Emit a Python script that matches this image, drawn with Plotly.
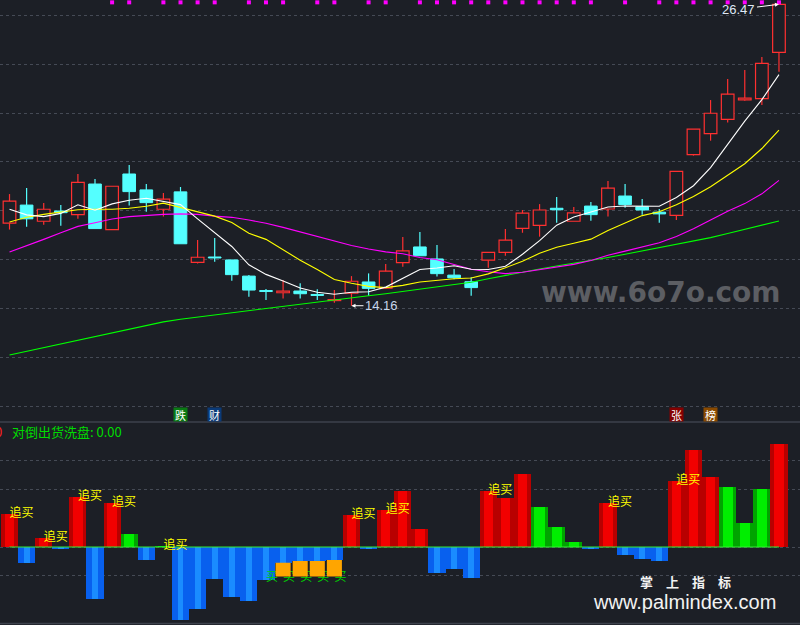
import plotly.graph_objects as go

BG = "#1c1f26"

# ---------------- data ----------------
opens = [17.53, 18.27, 17.61, 18.03, 17.88, 19.13, 17.27, 19.54, 18.89, 18.10,
         18.81, 15.93, 16.15, 16.03, 15.37, 14.78, 14.69, 14.76, 14.62, 14.37,
         14.67, 15.13, 14.88, 15.92, 16.56, 16.07, 15.41, 15.14, 16.02, 16.34,
         17.32, 17.44, 18.14, 17.61, 18.23, 18.11, 18.64, 18.20, 17.98, 17.85,
         20.33, 21.19, 21.77, 22.57, 22.62, 24.51]
highs = [18.72, 18.97, 18.36, 18.27, 19.54, 19.34, 19.04, 19.91, 19.13, 18.76,
         19.01, 16.84, 16.93, 16.03, 15.41, 14.84, 15.21, 15.08, 14.83, 14.80,
         15.37, 15.48, 15.86, 16.97, 17.17, 16.64, 15.66, 15.32, 16.34, 17.29,
         18.07, 18.31, 18.60, 18.19, 18.40, 19.25, 19.13, 18.52, 18.11, 19.65,
         21.37, 22.56, 23.42, 23.79, 24.32, 26.47]
lows = [17.27, 17.39, 17.47, 17.43, 17.71, 17.31, 17.27, 18.25, 18.00, 17.80,
        16.69, 15.88, 15.96, 15.18, 14.53, 14.39, 14.45, 14.45, 14.39, 14.28,
        14.16, 14.56, 14.88, 15.75, 16.20, 15.35, 15.24, 14.57, 15.71, 16.20,
        17.14, 16.98, 17.55, 17.61, 17.63, 17.80, 18.16, 17.88, 17.55, 17.66,
        20.29, 20.90, 21.64, 22.53, 22.36, 23.72]
closes = [18.43, 17.71, 18.10, 17.96, 19.20, 17.31, 19.04, 18.82, 18.37, 18.51,
          16.69, 16.14, 16.11, 15.43, 14.80, 14.74, 14.76, 14.65, 14.58, 14.41,
          15.16, 14.87, 15.57, 16.40, 16.20, 15.47, 15.30, 14.90, 16.34, 16.84,
          17.94, 18.07, 18.08, 17.95, 17.88, 18.96, 18.29, 18.07, 17.91, 19.65,
          21.37, 22.02, 22.80, 22.64, 24.06, 26.47]

ma5 = [18.10, 17.87, 17.80, 17.93, 18.28, 18.06, 18.32, 18.47, 18.55, 18.41,
       18.29, 17.71, 17.16, 16.58, 15.83, 15.44, 15.17, 14.88, 14.71, 14.63,
       14.71, 14.73, 14.92, 15.28, 15.64, 15.70, 15.79, 15.65, 15.64, 15.77,
       16.26, 16.82, 17.45, 17.78, 17.98, 18.19, 18.23, 18.23, 18.22, 18.58,
       19.06, 19.80, 20.75, 21.70, 22.58, 23.60]
ma10 = [17.58, 17.77, 17.89, 17.97, 18.08, 18.10, 18.10, 18.14, 18.22, 18.35,
        18.17, 18.01, 17.82, 17.56, 17.12, 16.87, 16.44, 16.02, 15.64, 15.23,
        15.08, 14.95, 14.90, 14.99, 15.13, 15.21, 15.26, 15.29, 15.46, 15.71,
        15.98, 16.30, 16.55, 16.71, 16.88, 17.23, 17.53, 17.84, 18.00, 18.28,
        18.62, 19.02, 19.49, 19.96, 20.58, 21.33]
ma20 = [16.35, 16.60, 16.87, 17.14, 17.40, 17.55, 17.70, 17.80, 17.86, 17.89,
        17.91, 17.89, 17.82, 17.77, 17.66, 17.53, 17.36, 17.18, 16.98, 16.79,
        16.62, 16.48, 16.36, 16.28, 16.13, 16.04, 15.85, 15.65, 15.55, 15.47,
        15.53, 15.63, 15.73, 15.85, 16.01, 16.22, 16.39, 16.56, 16.73, 16.99,
        17.30, 17.66, 18.02, 18.33, 18.73, 19.28]
ma60 = [12.15, 12.30, 12.45, 12.60, 12.75, 12.90, 13.05, 13.19, 13.34, 13.50,
        13.61, 13.70, 13.79, 13.88, 13.97, 14.05, 14.14, 14.23, 14.31, 14.39,
        14.48, 14.57, 14.65, 14.74, 14.83, 14.92, 15.02, 15.12, 15.26, 15.40,
        15.53, 15.66, 15.78, 15.89, 16.01, 16.13, 16.26, 16.40, 16.53, 16.66,
        16.79, 16.94, 17.11, 17.28, 17.45, 17.62]

# oscillator (lower panel)
osc = [1.14, -0.54, 0.32, -0.06, 1.72, -1.78, 1.52, 0.45, -0.44, 0.05,
       -2.51, -2.13, -1.09, -1.71, -1.85, -1.13, -0.54, -0.48, -0.48, -0.45,
       1.10, -0.06, 1.28, 1.93, 0.62, -0.89, -0.76, -1.06, 1.93, 1.69,
       2.52, 1.38, 0.69, 0.17, -0.06, 1.52, -0.27, -0.40, -0.47, 2.28,
       3.34, 2.41, 2.07, 0.83, 2.00, 3.55]
osc_kind = ["r", "b", "r", "b", "r", "b", "r", "g", "b", "g",
            "b", "b", "b", "b", "b", "b", "b", "b", "b", "b",
            "r", "b", "r", "r", "r", "b", "b", "b", "r", "r",
            "r", "g", "g", "g", "b", "r", "b", "b", "b", "r",
            "r", "r", "g", "g", "g", "r"]
orange_idx = [16, 17, 18, 19]
orange_bottom = -1.02
buy_idx = [15, 16, 17, 18, 19]
buy_level = -1.07
chase_idx = [0, 2, 4, 6, 9, 20, 22, 28, 35, 39]
dot_idx = [6, 7, 9, 10, 11, 12, 14, 15, 16, 18, 19, 21, 22, 24, 25, 26, 27, 28, 29,
           30, 31, 32, 33, 34, 36, 38, 39, 40, 41, 42, 43, 44, 45]
dot_level = 26.55
events = [("跌", 10, "#0a7a14"), ("财", 12, "#0a3a78"), ("张", 39, "#850000"), ("榜", 41, "#8a4a00")]

n = len(closes)
idx = list(range(n))
RED, CYAN = "#ff3030", "#54ffff"

fig = go.Figure()

# ---------------- candles ----------------
up = [i for i in idx if closes[i] >= opens[i]]
dn = [i for i in idx if closes[i] < opens[i]]


def body(ids):
    base = [min(opens[i], closes[i]) for i in ids]
    h = [max(abs(closes[i] - opens[i]), 0.03) for i in ids]
    return base, h


def wicks(ids):
    xs, ys = [], []
    for i in ids:
        top, bot = max(opens[i], closes[i]), min(opens[i], closes[i])
        if highs[i] > top:
            xs += [i, i, None]; ys += [top, highs[i], None]
        if lows[i] < bot:
            xs += [i, i, None]; ys += [lows[i], bot, None]
    return xs, ys


b, h = body(up)
fig.add_trace(go.Bar(x=up, y=h, base=b, width=0.74, marker=dict(color=BG, line=dict(color=RED, width=1.2)),
                     xaxis="x", yaxis="y"))
b, h = body(dn)
fig.add_trace(go.Bar(x=dn, y=h, base=b, width=0.74, marker=dict(color=CYAN, line=dict(color=CYAN, width=1)),
                     xaxis="x", yaxis="y"))
wx, wy = wicks(up)
fig.add_trace(go.Scatter(x=wx, y=wy, mode="lines", line=dict(color=RED, width=1.2), xaxis="x", yaxis="y"))
wx, wy = wicks(dn)
fig.add_trace(go.Scatter(x=wx, y=wy, mode="lines", line=dict(color=CYAN, width=1.2), xaxis="x", yaxis="y"))

for series, col in [(ma60, "#00ff00"), (ma20, "#ff00ff"), (ma10, "#ffff00"), (ma5, "#ffffff")]:
    fig.add_trace(go.Scatter(x=idx, y=series, mode="lines", line=dict(color=col, width=1.1),
                             xaxis="x", yaxis="y"))

fig.add_trace(go.Scatter(x=dot_idx, y=[dot_level] * len(dot_idx), mode="markers", cliponaxis=False,
                         marker=dict(symbol="square", size=4, color="#ff00ff"), xaxis="x", yaxis="y"))

# ---------------- lower oscillator ----------------
styles = {"r": ("#b80000", "#f20000", 0.55), "g": ("#00a400", "#00ee00", 0.6), "b": ("#0860ee", "#1a8cff", 0.35)}
for k in ["r", "g", "b"]:
    ids = [i for i in idx if osc_kind[i] == k]
    dark, bright, w = styles[k]
    fig.add_trace(go.Bar(x=ids, y=[osc[i] for i in ids], width=1.0, marker=dict(color=dark, line=dict(width=0)),
                         xaxis="x2", yaxis="y2"))
    fig.add_trace(go.Bar(x=ids, y=[osc[i] for i in ids], width=w, marker=dict(color=bright, line=dict(width=0)),
                         xaxis="x2", yaxis="y2"))

fig.add_trace(go.Scatter(x=buy_idx, y=[buy_level] * len(buy_idx), mode="text", text=["买"] * len(buy_idx),
                         textposition="middle right",
                         textfont=dict(color="#00d400", size=12, family="Noto Sans CJK SC"),
                         xaxis="x2", yaxis="y2"))
ox, oy = [], []
for i in orange_idx:
    ox += [i - 0.44, i + 0.44, i + 0.44, i - 0.44, i - 0.44, None]
    oy += [osc[i], osc[i], orange_bottom, orange_bottom, osc[i], None]
fig.add_trace(go.Scatter(x=ox, y=oy, mode="lines", fill="toself", fillcolor="#ffa500",
                         line=dict(width=0, color="#ffa500"), xaxis="x2", yaxis="y2"))

fig.add_trace(go.Scatter(x=idx, y=[0] * n, mode="lines", line=dict(color="#33ee33", width=1.2),
                         xaxis="x2", yaxis="y2"))
fig.add_trace(go.Scatter(x=chase_idx, y=[osc[i] for i in chase_idx], mode="text", text=["追买"] * len(chase_idx),
                         textposition="middle right",
                         textfont=dict(color="#ffff00", size=12, family="Noto Sans CJK SC"),
                         xaxis="x2", yaxis="y2"))

# ---------------- annotations ----------------
ann = []
ann.append(dict(x=n - 1, y=highs[n - 1], xref="x", yref="y", text="26.47", showarrow=True,
                ax=-40, ay=5, axref="pixel", ayref="pixel", arrowhead=2, arrowsize=0.8, arrowwidth=1,
                arrowcolor="#ffffff", standoff=0, font=dict(color="#dfe8f5", size=13, family="Liberation Sans")))
lo_i = lows.index(min(lows))
ann.append(dict(x=lo_i, y=lows[lo_i], xref="x", yref="y", text="14.16", showarrow=True,
                ax=30, ay=0, arrowhead=2, arrowsize=0.8, arrowwidth=1,
                arrowcolor="#ffffff", standoff=0, font=dict(color="#c8d6ea", size=13, family="Liberation Sans")))
for t, i, c in events:
    ann.append(dict(x=i, y=1 - 414 / 625, xref="x", yref="paper", text=t, showarrow=False, bgcolor=c,
                    width=13, height=13, borderpad=0,
                    font=dict(color="#ffffff", size=11, family="Noto Sans CJK SC")))
ann.append(dict(x=10 / 800, y=1 - 431 / 625, xref="paper", yref="paper", xanchor="left", yanchor="middle",
                text="对倒出货洗盘: 0.00", showarrow=False,
                font=dict(color="#00dc00", size=13, family="Noto Sans CJK SC")))
ann.append(dict(x=4 / 800, y=1 - 431 / 625, xref="paper", yref="paper", xanchor="right", yanchor="middle",
                text="0", showarrow=False, font=dict(color="#ff2020", size=13, family="Noto Sans CJK SC")))
ann.append(dict(x=661 / 800, y=1 - 292 / 625, xref="paper", yref="paper", xanchor="center", yanchor="middle",
                text="www.6o7o.com", showarrow=False,
                font=dict(color="#5c5e63", size=28, family="DejaVu Sans", weight="bold")))
ann.append(dict(x=685 / 800, y=1 - 581 / 625, xref="paper", yref="paper", xanchor="center", yanchor="middle",
                text="掌\u3000上\u3000指\u3000标", showarrow=False,
                font=dict(color="#f2f2f2", size=13, family="Noto Sans CJK SC", weight="bold")))
ann.append(dict(x=684 / 800, y=1 - 602 / 625, xref="paper", yref="paper", xanchor="center", yanchor="middle",
                text="www.palmindex.com", showarrow=False,
                font=dict(color="#f2f2f2", size=20, family="Liberation Sans")))

shapes = [
    dict(type="line", xref="paper", yref="paper", x0=0, x1=1, y0=1 - 422 / 625, y1=1 - 422 / 625,
         line=dict(color="#3d424c", width=1.5)),
    dict(type="line", xref="paper", yref="paper", x0=0, x1=1, y0=1 - 623.5 / 625, y1=1 - 623.5 / 625,
         line=dict(color="#3d424c", width=1.5)),
]

xr = [-0.556, 46.23]
grid_top = [10.03 + 2.0 * k for k in range(9)]
fig.update_layout(
    width=800, height=625, margin=dict(l=0, r=0, t=0, b=0, pad=0, autoexpand=False),
    paper_bgcolor=BG, plot_bgcolor=BG, showlegend=False, hovermode=False,
    barmode="overlay", bargap=0,
    xaxis=dict(domain=[0, 1], range=xr, visible=False, anchor="y", automargin=False),
    xaxis2=dict(domain=[0, 1], range=xr, visible=False, anchor="y2", automargin=False),
    yaxis=dict(domain=[1 - 421 / 625, 1], range=[9.452, 26.646], tickvals=grid_top, showticklabels=False,
               showgrid=True, gridcolor="#454a55", griddash="dot", gridwidth=1, zeroline=False, anchor="x",
               automargin=False),
    yaxis2=dict(domain=[0, 1 - 423 / 625], range=[-2.690, 4.276], tickvals=[-1, 0, 2, 3], showticklabels=False,
                showgrid=True, gridcolor="#454a55", griddash="dot", gridwidth=1, zeroline=False, anchor="x2",
                automargin=False),
    annotations=ann, shapes=shapes,
)

fig.write_html("out.html", config={"displayModeBar": False, "staticPlot": True},
               post_script="document.body.style.margin='0';document.body.style.background='%s';" % BG)
